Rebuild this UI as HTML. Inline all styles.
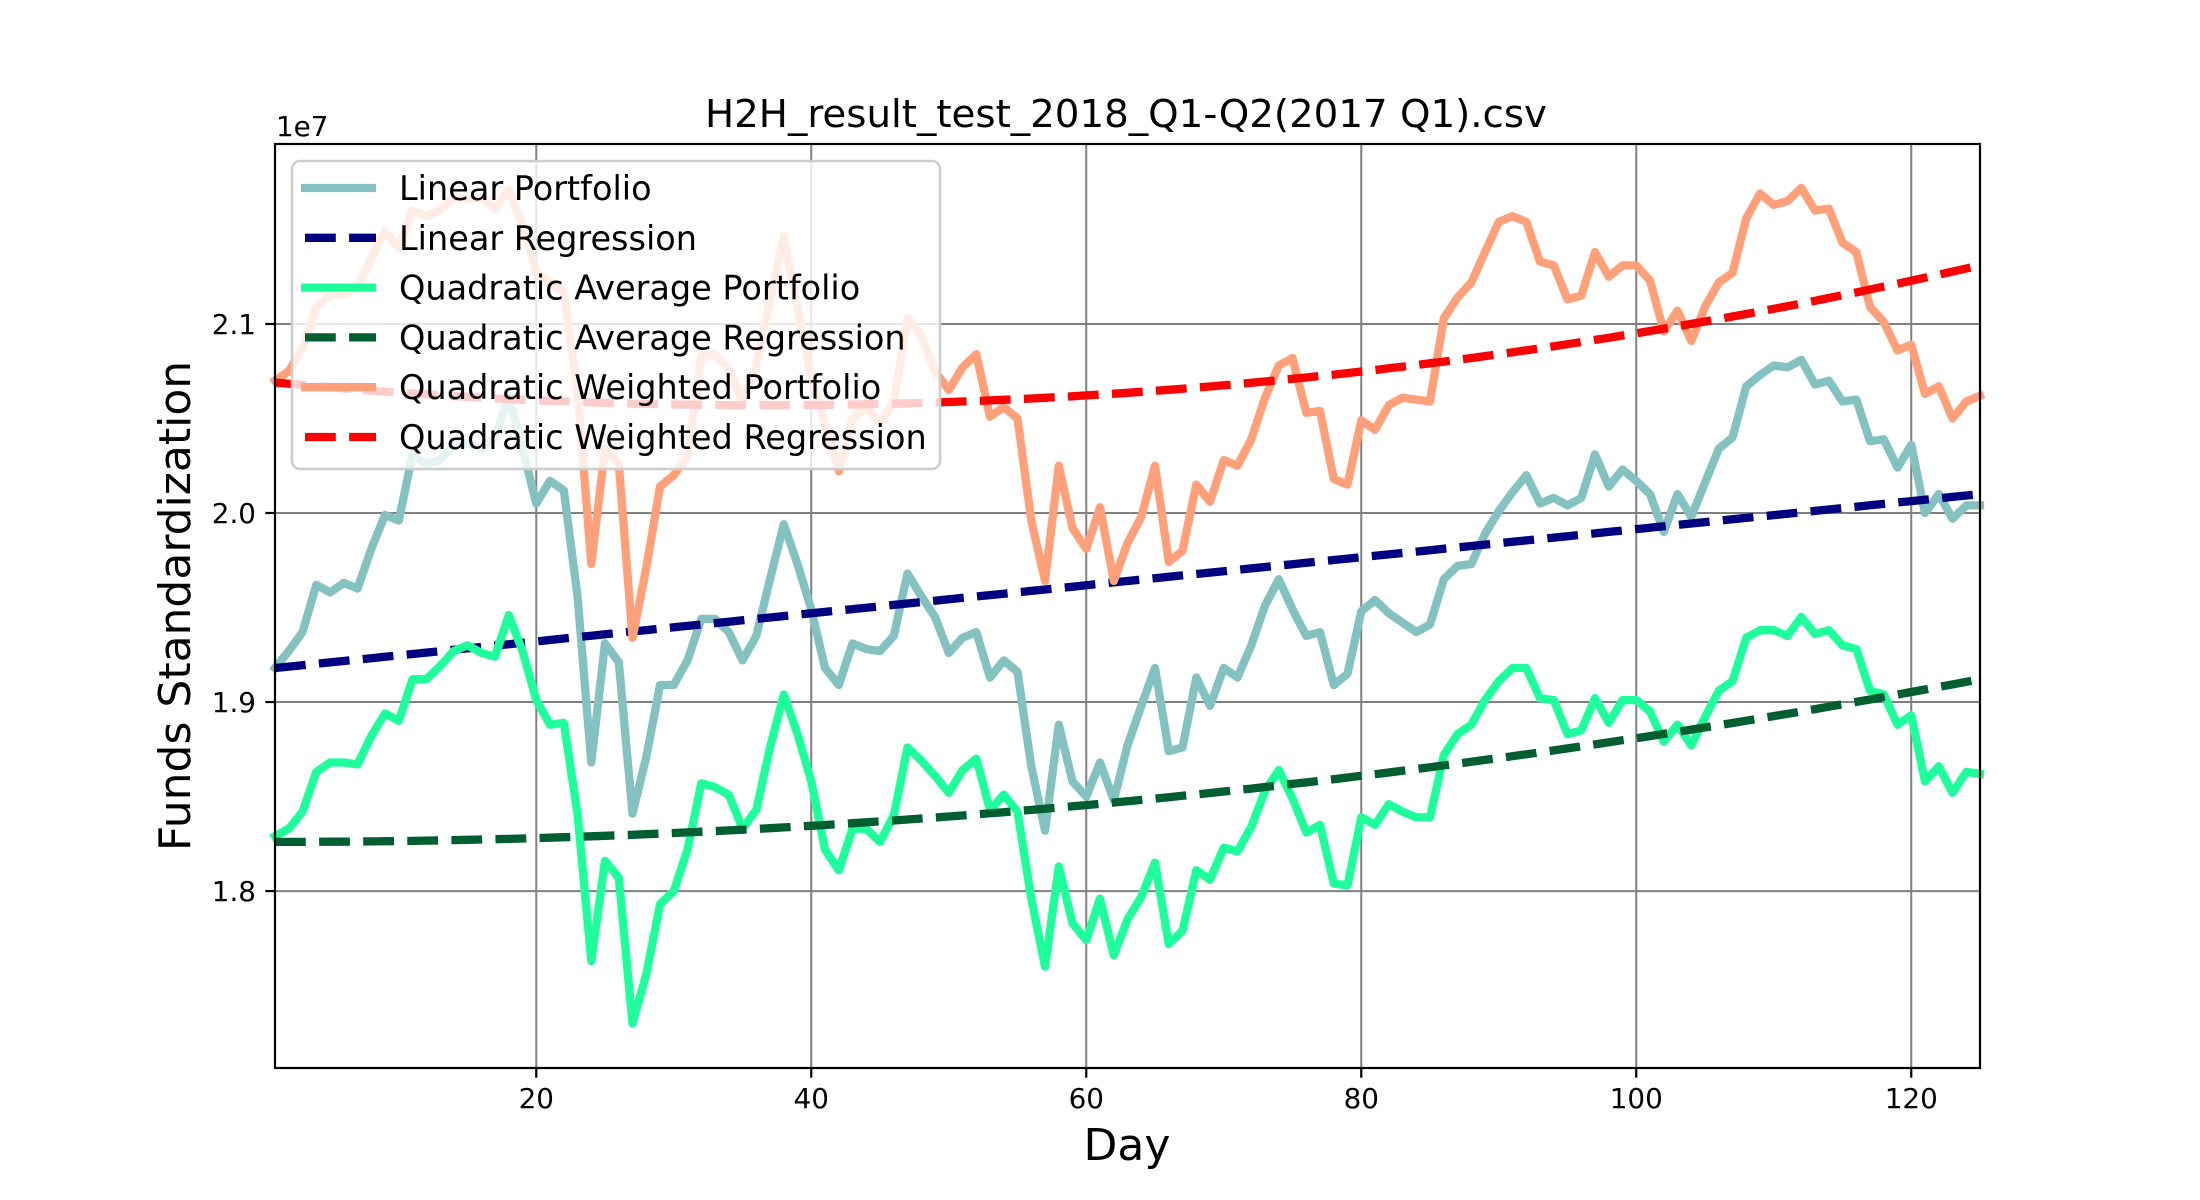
<!DOCTYPE html>
<html><head><meta charset="utf-8"><style>
html,body{margin:0;padding:0;background:#fff;}
svg{display:block;font-family:"DejaVu Sans","Liberation Sans",sans-serif;}
</style></head><body>
<svg id="chart" width="2200" height="1200" viewBox="0 0 2200 1200" xmlns="http://www.w3.org/2000/svg">
<rect x="0" y="0" width="2200" height="1200" fill="#fff"/>
<text x="705" y="127" font-size="38" textLength="842" lengthAdjust="spacingAndGlyphs">H2H_result_test_2018_Q1-Q2(2017 Q1).csv</text>
<text x="276" y="136" font-size="27.8">1e7</text>
<text x="1127" y="1160" font-size="44" text-anchor="middle">Day</text>
<text x="190" y="606" font-size="44" text-anchor="middle" transform="rotate(-90 190 606)">Funds Standardization</text>
<g id="grid"></g>
<g id="series"></g>
<g id="axes"></g>
<g id="legend"></g>
</svg>
<script>
const xTicks = [20, 40, 60, 80, 100, 120];
const yTicks = [1.8, 1.9, 2.0, 2.1];
const yTickLabels = ["1.8", "1.9", "2.0", "2.1"];
const linearPortfolio = [1.918,1.927,1.937,1.962,1.958,1.963,1.960,1.981,1.999,1.996,2.031,2.026,2.028,2.036,2.037,2.034,2.040,2.062,2.034,2.005,2.017,2.012,1.956,1.868,1.931,1.921,1.841,1.871,1.909,1.909,1.922,1.944,1.944,1.937,1.922,1.935,1.965,1.994,1.973,1.949,1.918,1.909,1.931,1.928,1.927,1.935,1.968,1.956,1.945,1.926,1.934,1.937,1.913,1.922,1.916,1.866,1.832,1.888,1.858,1.850,1.868,1.848,1.877,1.898,1.918,1.874,1.876,1.913,1.898,1.918,1.913,1.930,1.951,1.965,1.949,1.935,1.937,1.909,1.915,1.948,1.954,1.947,1.942,1.937,1.941,1.965,1.972,1.973,1.989,2.001,2.011,2.020,2.005,2.008,2.004,2.008,2.031,2.014,2.023,2.017,2.010,1.990,2.010,1.998,2.016,2.034,2.040,2.067,2.073,2.078,2.077,2.081,2.068,2.070,2.059,2.060,2.038,2.039,2.024,2.036,2.000,2.010,1.997,2.004,2.004];
const quadAvgPortfolio = [1.829,1.833,1.842,1.863,1.868,1.868,1.867,1.882,1.894,1.890,1.912,1.912,1.919,1.927,1.930,1.926,1.924,1.946,1.927,1.901,1.888,1.889,1.841,1.763,1.816,1.807,1.730,1.756,1.793,1.800,1.822,1.857,1.855,1.851,1.833,1.843,1.876,1.904,1.883,1.858,1.822,1.811,1.833,1.833,1.826,1.840,1.876,1.869,1.861,1.852,1.864,1.870,1.843,1.851,1.842,1.796,1.760,1.813,1.783,1.774,1.796,1.766,1.785,1.797,1.815,1.772,1.779,1.811,1.806,1.823,1.821,1.834,1.853,1.864,1.849,1.831,1.835,1.804,1.803,1.839,1.835,1.846,1.842,1.839,1.839,1.872,1.883,1.888,1.901,1.911,1.918,1.918,1.902,1.901,1.883,1.885,1.902,1.889,1.901,1.901,1.895,1.879,1.888,1.877,1.892,1.906,1.911,1.934,1.938,1.938,1.935,1.945,1.936,1.938,1.930,1.928,1.906,1.904,1.888,1.893,1.858,1.866,1.852,1.863,1.862];
const quadWeightedPortfolio = [2.070,2.075,2.087,2.109,2.115,2.116,2.119,2.135,2.149,2.140,2.160,2.157,2.160,2.167,2.166,2.167,2.161,2.171,2.152,2.127,2.122,2.117,2.065,1.973,2.034,2.026,1.934,1.971,2.014,2.020,2.030,2.083,2.084,2.076,2.059,2.078,2.113,2.146,2.109,2.072,2.047,2.022,2.050,2.056,2.047,2.059,2.103,2.094,2.075,2.065,2.077,2.084,2.051,2.056,2.050,1.996,1.964,2.025,1.992,1.981,2.003,1.964,1.984,1.998,2.025,1.974,1.980,2.015,2.006,2.028,2.025,2.039,2.061,2.078,2.082,2.053,2.054,2.018,2.015,2.049,2.044,2.057,2.061,2.060,2.059,2.103,2.114,2.122,2.138,2.154,2.157,2.154,2.133,2.131,2.113,2.115,2.138,2.125,2.131,2.131,2.123,2.096,2.107,2.091,2.109,2.122,2.127,2.156,2.169,2.163,2.165,2.172,2.160,2.161,2.143,2.138,2.109,2.101,2.086,2.089,2.063,2.067,2.050,2.059,2.062];
// regression fit coefficients
const linearRegCoef = [1.918, 0.000742];        // a + b*(d-1)
const quadAvgRegCoef = [1.826, 0.0000056, 1];    // m + c*(d-h)^2
const quadWeightedRegCoef = [2.057, 0.00000947, 36.6];

const NS = "http://www.w3.org/2000/svg";
const L = 275, R = 1980, T = 144, B = 1068;
const xMin = 1, xMax = 125, yMin = 1.7064, yMax = 2.1952;
function xs(d){ return L + (d - xMin) / (xMax - xMin) * (R - L); }
function ys(v){ return B - (v - yMin) / (yMax - yMin) * (B - T); }
function mk(tag, attrs, parent){
  const e = document.createElementNS(NS, tag);
  for (const k in attrs) e.setAttribute(k, attrs[k]);
  parent.appendChild(e);
  return e;
}
const grid = document.getElementById('grid');
const axes = document.getElementById('axes');
const series = document.getElementById('series');
const legend = document.getElementById('legend');

xTicks.forEach(t => {
  const g = mk('line', {x1: xs(t), x2: xs(t), y1: T, y2: B, stroke: '#808080', 'stroke-width': 2}, grid);
  
  
  const tk = mk('line', {x1: xs(t), x2: xs(t), y1: B, y2: B + 9.7, stroke: '#000', 'stroke-width': 2.2}, axes);
  
  
  const tx = mk('text', {x: xs(t), y: 1108, 'font-size': 27.8, 'text-anchor': 'middle'}, axes);
  tx.textContent = String(t);
  
  
});
yTicks.forEach((t, i) => {
  const g = mk('line', {x1: L, x2: R, y1: ys(t), y2: ys(t), stroke: '#808080', 'stroke-width': 2}, grid);
  
  
  const tk = mk('line', {x1: L - 9.7, x2: L, y1: ys(t), y2: ys(t), stroke: '#000', 'stroke-width': 2.2}, axes);
  
  
  const tx = mk('text', {x: L - 19, y: ys(t) + 10, 'font-size': 27.8, 'text-anchor': 'end'}, axes);
  tx.textContent = yTickLabels[i];
  
  
});
const frame = mk('rect', {x: L, y: T, width: R - L, height: B - T, fill: 'none', stroke: '#000', 'stroke-width': 2.2}, axes);



const days = linearPortfolio.map((_, i) => i + 1);
function pathFrom(vals){ return vals.map((v, i) => (i ? 'L' : 'M') + xs(days[i]).toFixed(1) + ',' + ys(v).toFixed(1)).join(''); }
const linReg = days.map(d => linearRegCoef[0] + linearRegCoef[1] * (d - 1));
const qaReg = days.map(d => quadAvgRegCoef[0] + quadAvgRegCoef[1] * Math.pow(d - quadAvgRegCoef[2], 2));
const qwReg = days.map(d => quadWeightedRegCoef[0] + quadWeightedRegCoef[1] * Math.pow(d - quadWeightedRegCoef[2], 2));

const defs = [
  {vals: linearPortfolio, color: '#84c1c1', dash: null, name: 'linear-portfolio-line', label: 'Linear Portfolio'},
  {vals: linReg, color: '#000080', dash: '30.8 13.3', name: 'linear-regression-line', label: 'Linear Regression'},
  {vals: quadAvgPortfolio, color: '#1eff9c', dash: null, name: 'quadratic-average-portfolio-line', label: 'Quadratic Average Portfolio'},
  {vals: qaReg, color: '#005f30', dash: '30.8 13.3', name: 'quadratic-average-regression-line', label: 'Quadratic Average Regression'},
  {vals: quadWeightedPortfolio, color: '#ffa07a', dash: null, name: 'quadratic-weighted-portfolio-line', label: 'Quadratic Weighted Portfolio'},
  {vals: qwReg, color: '#ff0000', dash: '30.8 13.3', name: 'quadratic-weighted-regression-line', label: 'Quadratic Weighted Regression'}
];
defs.forEach(s => {
  const a = {d: pathFrom(s.vals), fill: 'none', stroke: s.color, 'stroke-width': 8.3, 'stroke-linejoin': 'round', 'stroke-linecap': s.dash ? 'butt' : 'square'};
  if (s.dash) a['stroke-dasharray'] = s.dash;
  const p = mk('path', a, series);
  
  
});

const box = mk('rect', {x: 292, y: 161, width: 648, height: 308, rx: 8, fill: 'rgba(255,255,255,0.8)', stroke: '#cccccc', 'stroke-width': 2.5}, legend);


defs.forEach((s, i) => {
  const y = 188 + i * 49.8;
  const g = mk('g', {}, legend);
  
  
  const a = {x1: 301, x2: 376, y1: y, y2: y, stroke: s.color, 'stroke-width': 8.3};
  if (s.dash) { a.x1 = 305; a.x2 = 376; a['stroke-dasharray'] = '30.8 13.3'; }
  const ln = mk('line', a, g);
  
  
  const t = mk('text', {x: 399, y: y + 12, 'font-size': 33.5}, g);
  t.textContent = s.label;
  
  
});
</script>
</body></html>
